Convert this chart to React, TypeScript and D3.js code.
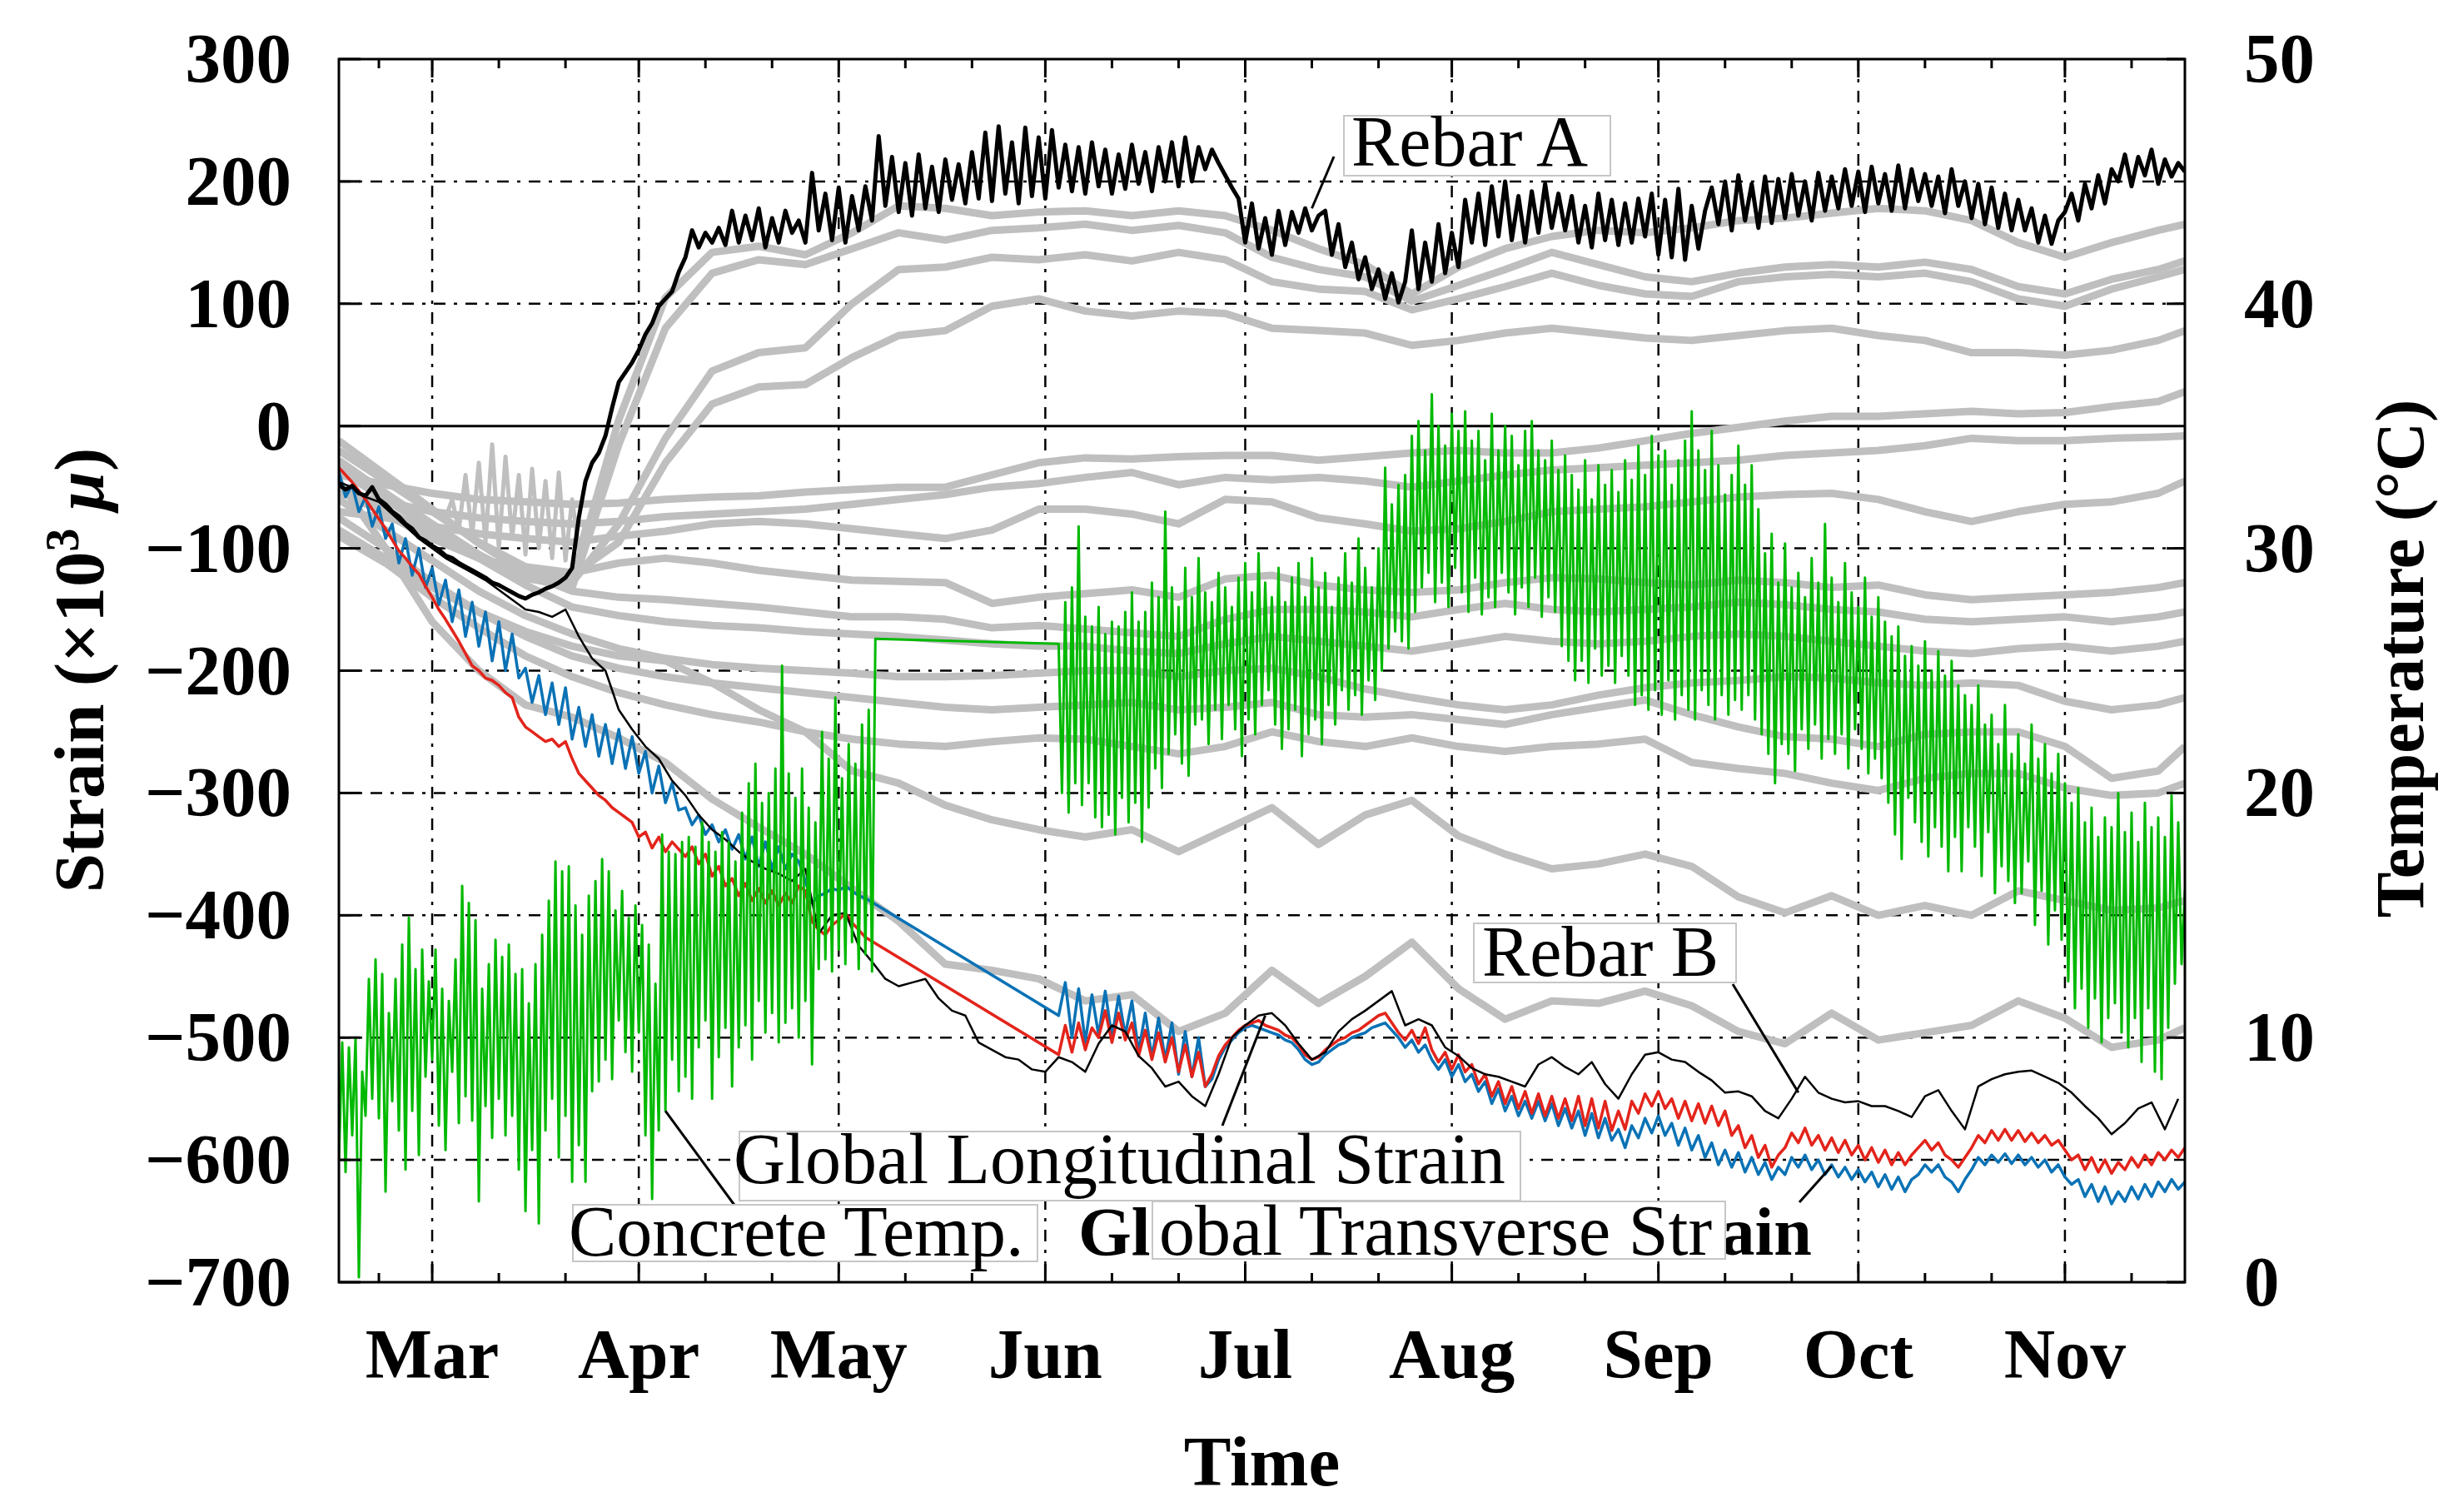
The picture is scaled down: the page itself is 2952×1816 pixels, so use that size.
import React, { useEffect } from 'react';
import * as d3 from 'd3';

// day 0 = 15 Feb; every series is indexed in days from that date
const startDate = new Date(2015, 1, 15);
const lastDay = 277;

const strainTicks = [300, 200, 100, 0, -100, -200, -300, -400, -500, -600, -700];
const tempTicks = [0, 10, 20, 30, 40, 50];
const monthNames = ['Mar', 'Apr', 'May', 'Jun', 'Jul', 'Aug', 'Sep', 'Oct', 'Nov'];

// Rebar A, daily from day 0
const rebarA = [
  -48, -52, -49, -55, -57, -50, -60, -64, -70, -74,
  -80, -84, -91, -94, -98, -101, -106, -108, -112, -115,
  -118, -121, -124, -128, -130, -133, -136, -139, -141, -138,
  -136, -133, -131, -128, -124, -116, -75, -45, -30, -22,
  -8, 15, 36, 44, 52, 62, 75, 84, 98, 104,
  110, 126, 138, 160, 146, 158, 150, 162, 148, 176,
  150, 172, 152, 178, 146, 170, 150, 176, 158, 168,
  150, 207, 160, 190, 152, 195, 150, 188, 160, 196,
  168, 237, 180, 220, 175, 215, 172, 222, 178, 212,
  175, 218, 185, 214, 182, 224, 186, 240, 184, 245,
  190, 232, 182, 244, 188, 236, 186, 242, 195, 230,
  192, 228, 190, 232, 196, 226, 190, 222, 194, 230,
  198, 224, 192, 228, 200, 232, 196, 236, 200, 228,
  210, 226, 215, 205, 195, 186, 150, 182, 145, 170,
  140, 176, 148, 175, 158, 178, 160, 172, 176, 140,
  165, 130, 150, 120, 138, 112, 128, 104, 125, 101,
  118, 160, 112, 150, 118, 165, 125, 158, 130, 185,
  150, 190, 148, 196, 155, 200, 152, 188, 150, 192,
  158, 198, 162, 190, 160, 188, 150, 180, 146, 190,
  152, 185, 148, 182, 150, 186, 155, 190, 140, 185,
  138, 194, 136, 180, 145, 176, 195, 165, 200, 160,
  205, 168, 198, 162, 204, 166, 202, 170, 206, 172,
  200, 168, 207, 176, 204, 178, 210, 180, 208, 175,
  212, 182, 206, 176, 213, 178, 210, 184, 206, 180,
  204, 174, 210, 180, 200, 170, 198, 165, 195, 162,
  190, 160, 185, 160, 178, 150, 172, 149, 168, 175,
  190, 168, 198, 178, 205, 182, 210, 200, 222, 196,
  220, 205, 226, 198, 218, 204, 215, 208,
];

// Rebar B, every 2 days from day 0
const rebarB = [
  -46, -50, -58, -62, -72, -82, -92, -100, -108, -114,
  -120, -126, -134, -142, -150, -152, -156, -150, -172, -190,
  -200, -232, -248, -262, -272, -290, -302, -318, -330, -338,
  -348, -356, -362, -366, -372, -362, -415, -400, -398, -425,
  -438, -452, -458, -455, -452, -468, -478, -482, -504, -510,
  -516, -518, -526, -528, -516, -520, -528, -505, -490, -495,
  -515, -525, -540, -536, -548, -556, -530, -500, -490, -482,
  -480, -490, -505, -518, -512, -495, -485, -478, -470, -462,
  -490, -485, -490, -508, -515, -525, -530, -532, -536, -540,
  -522, -516, -524, -530, -520, -538, -550, -530, -514, -512,
  -518, -520, -528, -535, -545, -544, -548, -560, -566, -550,
  -532, -545, -550, -553, -552, -556, -556, -560, -565, -548,
  -543, -560, -575, -540, -534, -530, -528, -527, -532, -537,
  -545, -556, -566, -579, -570, -558, -553, -575, -550,
];

// Global longitudinal strain (red): daily from day 0, then daily from day 108
const longEarly = [
  -34, -40, -46, -53, -60, -68, -76, -84, -93, -102,
  -108, -115, -121, -131, -140, -150, -158, -167, -176, -186,
  -196, -200, -206, -208, -212, -218, -222, -238, -246, -250,
  -254, -258, -256, -262, -258, -272, -284, -290, -296, -302,
  -306, -312, -316, -320, -324, -336, -332, -345, -336, -348,
  -340, -346, -352, -344, -358, -350, -368, -360, -376, -370,
  -384, -374, -388, -378, -390, -380, -392, -382, -390, -376,
  -380, -405, -412, -416, -408, -404, -398, -406, -412, -418,
];
const longLate = [
  -514, -490, -512, -488, -510, -492, -500, -478, -504, -480,
  -502, -488, -515, -494, -518, -496, -520, -500, -528, -506,
  -532, -512, -540, -530, -515, -506, -500, -494, -490, -488,
  -486, -490, -492, -494, -498, -500, -506, -514, -518, -516,
  -510, -506, -502, -500, -496, -494, -490, -486, -482, -480,
  -488, -496, -502, -494, -505, -492, -510, -520, -512, -526,
  -514, -528, -522, -538, -530, -548, -536, -554, -540, -558,
  -544, -562, -546, -564, -548, -566, -550, -568, -548, -572,
  -550, -574, -552, -576, -560, -575, -552, -562, -546, -556,
  -544, -558, -550, -566, -552, -568, -554, -570, -556, -572,
  -560, -580, -572, -590, -580, -598, -588, -606, -596, -590,
  -578, -586, -574, -588, -580, -592, -582, -594, -584, -596,
  -588, -600, -590, -602, -592, -604, -594, -604, -596, -590,
  -584, -592, -586, -596, -600, -606, -598, -590, -580, -586,
  -576, -584, -575, -584, -576, -585, -578, -586, -580, -588,
  -584, -592, -600, -596, -608, -598, -610, -600, -611, -602,
  -608, -598, -606, -596, -604, -594, -600, -592, -598, -590,
];

// Global transverse strain (blue): daily from day 0, then daily from day 108
const transEarly = [
  -37, -58, -48, -70, -58, -82, -66, -92, -80, -112,
  -92, -122, -100, -132, -116, -146, -126, -160, -134, -172,
  -144, -180, -152, -192, -160, -200, -170, -206, -198, -226,
  -204, -236, -210, -244, -214, -256, -230, -262, -236, -270,
  -244, -276, -248, -280, -254, -284, -266, -300, -278, -308,
  -292, -314, -312, -326, -318, -334, -326, -340, -330, -346,
  -334, -354, -336, -360, -340, -362, -344, -362, -350, -356,
  -372, -390, -384, -382, -378, -380, -376, -380, -384, -386,
];
const transLate = [
  -482, -455, -500, -460, -504, -465, -498, -462, -500, -466,
  -498, -470, -512, -480, -516, -484, -518, -488, -530, -495,
  -532, -500, -540, -534, -518, -508, -502, -496, -492, -490,
  -492, -494, -496, -498, -502, -504, -510, -518, -522, -520,
  -514, -510, -506, -504, -500, -498, -496, -492, -490, -488,
  -494, -500, -508, -502, -512, -506, -518, -526, -518, -532,
  -522, -536, -530, -544, -536, -554, -542, -560, -548, -564,
  -552, -566, -552, -568, -554, -572, -558, -574, -560, -580,
  -562, -582, -566, -584, -575, -590, -572, -582, -566, -578,
  -564, -580, -570, -588, -574, -592, -580, -598, -586, -604,
  -592, -606, -594, -610, -598, -612, -602, -616, -606, -612,
  -598, -606, -596, -608, -600, -612, -604, -614, -606, -616,
  -608, -618, -610, -622, -612, -624, -614, -626, -616, -612,
  -604, -610, -604, -614, -618, -626, -616, -608, -598, -604,
  -596, -602, -595, -603, -596, -604, -598, -606, -600, -610,
  -604, -614, -620, -616, -630, -620, -634, -622, -636, -626,
  -634, -622, -632, -620, -630, -618, -626, -616, -624, -618,
];

// Concrete temperature (°C), two readings a day (night low, day high) from day 0 to 80
const tempEarly = [
  5.0, 9.8, 4.5, 9.6, 6.0, 10.0, 0.2, 8.6, 6.8, 12.4,
  7.5, 13.2, 6.7, 12.6, 3.7, 11.0, 7.4, 12.4, 6.2, 13.8,
  4.6, 14.9, 7.0, 12.8, 5.2, 13.6, 8.4, 12.3, 9.1, 13.6,
  6.4, 12.0, 5.4, 11.5, 8.6, 13.2, 6.5, 16.2, 7.6, 15.5,
  6.6, 14.8, 3.3, 12.0, 7.2, 13.0, 5.9, 14.0, 7.5, 13.3,
  6.0, 13.8, 6.8, 12.6, 4.6, 12.8, 2.9, 11.4, 5.4, 13.0,
  2.4, 14.2, 6.2, 15.6, 7.5, 17.2, 5.1, 16.8, 6.8, 17.0,
  4.1, 15.4, 5.6, 14.2, 4.1, 15.8, 7.8, 16.4, 8.2, 17.3,
  9.1, 16.8, 8.3, 15.2, 10.7, 16.0, 9.4, 14.9, 8.6, 15.4,
  10.2, 14.6, 6.0, 13.8, 3.4, 12.2, 6.2, 18.3, 7.0, 17.6,
  9.1, 17.5, 7.8, 18.0, 8.4, 18.2, 7.5, 17.8, 9.6, 18.8,
  10.7, 18.0, 7.5, 17.6, 9.2, 18.4, 10.4, 18.0, 8.0, 17.2,
  9.6, 19.2, 10.5, 20.4, 9.1, 21.2, 11.5, 19.6, 10.2, 20.0,
  11.0, 21.0, 9.8, 25.2, 10.6, 20.8, 11.2, 19.8, 10.0, 21.0,
  11.5, 19.4, 8.9, 18.8, 12.8, 22.5, 13.2, 21.4, 12.7, 23.9,
  13.6, 20.6, 13.0, 22.0, 13.9, 21.2, 12.8, 22.8, 13.4, 23.4,
  12.7, 26.3,
];
// two readings a day (day high, night low) from day 108
const tempLate = [
  26.1, 20.0, 27.8, 19.2, 28.4, 20.4, 30.9, 19.5, 27.2, 20.4,
  26.8, 19.0, 27.6, 18.6, 26.5, 19.1, 27.0, 18.3, 26.8, 19.8,
  27.4, 18.8, 28.2, 19.6, 27.0, 18.0, 27.4, 19.4, 28.6, 21.0,
  28.0, 20.2, 31.5, 21.6, 28.4, 22.4, 27.6, 21.2, 29.2, 20.7,
  28.0, 22.8, 29.6, 23.0, 28.2, 22.0, 27.8, 23.4, 29.0, 22.2,
  28.4, 23.6, 27.6, 22.6, 28.8, 21.5, 29.4, 23.0, 28.2, 22.4,
  29.8, 23.6, 28.6, 24.2, 28.0, 22.8, 29.2, 21.8, 27.8, 22.6,
  28.8, 23.4, 29.4, 21.5, 28.0, 22.4, 29.6, 23.0, 28.4, 22.0,
  29.0, 23.6, 27.6, 22.8, 28.8, 24.2, 29.8, 23.4, 28.6, 24.0,
  30.4, 23.2, 29.2, 24.6, 28.4, 23.8, 30.0, 25.0, 33.3, 25.9,
  31.8, 26.6, 32.6, 26.2, 33.0, 25.9, 34.6, 27.4, 35.2, 28.4,
  34.0, 29.0, 36.3, 27.8, 35.0, 28.6, 34.2, 27.6, 35.5, 29.2,
  34.8, 28.2, 35.6, 27.4, 34.4, 28.8, 34.8, 27.3, 33.6, 28.0,
  35.5, 27.6, 34.0, 29.0, 35.0, 28.2, 34.6, 27.3, 33.4, 28.4,
  34.8, 27.6, 35.2, 28.8, 34.0, 27.2, 33.6, 28.0, 34.4, 27.4,
  33.2, 26.0, 33.8, 25.4, 33.0, 24.6, 32.4, 25.4, 33.6, 24.5,
  32.0, 25.9, 33.4, 24.8, 32.6, 25.2, 33.2, 24.5, 32.3, 25.6,
  33.6, 24.8, 32.8, 23.6, 34.2, 24.0, 33.0, 23.4, 34.6, 24.2,
  33.8, 23.2, 34.0, 24.6, 32.6, 23.0, 33.6, 24.0, 34.4, 23.4,
  35.6, 23.0, 34.0, 24.2, 33.2, 23.6, 34.8, 23.0, 33.4, 24.0,
  32.2, 23.2, 33.0, 23.8, 34.2, 23.4, 32.6, 24.0, 33.4, 23.0,
  31.6, 22.4, 29.8, 21.6, 30.6, 20.4, 28.6, 22.0, 30.2, 21.6,
  28.4, 20.9, 29.0, 22.6, 28.0, 21.8, 29.6, 22.8, 28.6, 21.4,
  31.0, 22.2, 28.8, 21.6, 27.8, 22.4, 29.4, 21.0, 28.2, 22.6,
  27.6, 21.8, 28.8, 20.8, 27.2, 21.4, 28.0, 20.6, 27.0, 19.6,
  26.4, 18.3, 26.8, 17.3, 25.6, 19.8, 26.0, 18.8, 25.2, 18.0,
  26.2, 17.4, 25.0, 18.6, 25.8, 17.8, 24.8, 16.8, 25.4, 18.2,
  24.4, 16.8, 24.0, 18.6, 23.6, 17.8, 24.4, 16.6, 22.8, 18.4,
  23.2, 15.9, 22.0, 17.0, 23.6, 16.4, 21.6, 15.5, 22.4, 15.9,
  21.2, 17.2, 22.8, 14.6, 21.4, 16.0, 22.0, 13.8, 20.8, 15.2,
  21.6, 14.0, 20.4, 12.3, 19.6, 11.2, 20.2, 12.0, 18.8, 10.4,
  19.4, 11.6, 18.2, 9.8, 19.0, 10.8, 18.6, 11.4, 20.0, 10.2,
  18.4, 9.6, 19.2, 10.8, 18.0, 9.0, 19.6, 11.2, 18.6, 8.6,
  19.0, 8.3, 18.2, 10.4, 19.9, 12.2, 18.8, 13.0, 16.0, 14.7,
];

// other gauges (grey), read weekly
const grayDays = [
  0, 7, 14, 21, 28, 35, 42, 49, 56, 63, 70, 77, 84, 91, 98, 105, 112, 119, 126, 133,
  140, 147, 154, 161, 168, 175, 182, 189, 196, 203, 210, 217, 224, 231, 238, 245, 252, 259, 266, 273, 277,
];
const grayG1 = [-30, -55, -80, -105, -125, -128, 5, 105, 142, 147, 140, 158, 180, 178, 172, 175, 176, 172, 176, 172, 160, 145, 132, 108, 130, 145, 155, 160, 158, 162, 168, 170, 174, 178, 176, 168, 150, 138, 150, 160, 165];
const grayG2 = [-36, -60, -84, -106, -124, -132, -15, 80, 125, 136, 132, 145, 158, 152, 160, 162, 165, 160, 164, 158, 138, 128, 122, 102, 115, 128, 142, 132, 122, 118, 125, 130, 132, 130, 134, 128, 114, 108, 120, 128, 135];
const grayG3 = [-48, -68, -90, -108, -122, -128, -80, -10, 45, 60, 64, 100, 128, 130, 138, 136, 140, 135, 142, 136, 118, 112, 110, 95, 104, 114, 125, 115, 108, 106, 118, 122, 124, 122, 125, 118, 104, 98, 112, 122, 128];
const grayG4 = [-52, -72, -92, -108, -118, -122, -95, -30, 18, 32, 34, 56, 74, 78, 98, 104, 94, 90, 94, 92, 80, 78, 76, 66, 70, 76, 80, 76, 72, 70, 74, 78, 80, 74, 70, 60, 60, 58, 62, 70, 78];
const grayN1 = [-40, -48, -55, -60, -62, -64, -63, -60, -58, -57, -54, -52, -50, -50, -40, -30, -26, -27, -25, -24, -24, -28, -25, -22, -20, -22, -22, -18, -12, -6, -1, 4, 8, 8, 10, 12, 10, 11, 16, 20, 28];
const grayN2 = [-55, -62, -70, -75, -78, -80, -78, -74, -72, -70, -68, -64, -60, -56, -50, -47, -42, -38, -48, -42, -44, -42, -45, -50, -45, -40, -36, -34, -32, -30, -28, -24, -22, -20, -16, -10, -12, -12, -10, -9, -8];
const grayN3 = [-70, -75, -82, -88, -92, -95, -90, -86, -80, -78, -80, -84, -88, -92, -85, -68, -68, -72, -80, -60, -62, -75, -80, -86, -84, -78, -70, -68, -66, -62, -58, -56, -55, -60, -70, -78, -70, -64, -62, -55, -45];
const grayN4 = [-20, -45, -70, -95, -115, -120, -112, -108, -112, -118, -122, -126, -127, -128, -145, -140, -137, -134, -140, -125, -122, -130, -134, -136, -134, -128, -124, -125, -128, -130, -126, -128, -132, -130, -138, -142, -140, -138, -136, -132, -128];
const grayN5 = [-12, -40, -68, -96, -120, -135, -140, -142, -145, -148, -152, -156, -156, -158, -165, -163, -166, -169, -172, -158, -150, -150, -152, -156, -150, -145, -150, -152, -150, -148, -144, -146, -150, -152, -158, -160, -158, -156, -160, -156, -152];
const grayN6 = [-28, -55, -82, -108, -130, -148, -155, -160, -163, -165, -168, -170, -172, -175, -178, -180, -180, -184, -186, -178, -172, -176, -180, -184, -178, -172, -176, -178, -176, -172, -170, -172, -176, -180, -184, -186, -182, -180, -184, -180, -176];
const grayN7 = [-60, -85, -110, -135, -155, -170, -182, -190, -195, -198, -200, -202, -205, -205, -204, -202, -200, -200, -205, -200, -198, -205, -215, -222, -228, -232, -228, -220, -214, -210, -208, -205, -206, -210, -212, -210, -212, -225, -232, -228, -222];
const grayN8 = [-75, -100, -128, -152, -172, -188, -198, -205, -210, -214, -218, -222, -226, -230, -232, -230, -228, -226, -232, -230, -226, -236, -238, -236, -240, -244, -236, -230, -224, -236, -246, -254, -256, -262, -252, -250, -250, -262, -288, -282, -262];
const grayN9 = [-90, -112, -140, -165, -188, -205, -218, -228, -236, -242, -250, -256, -260, -262, -258, -255, -256, -262, -268, -262, -250, -258, -262, -255, -262, -266, -262, -260, -256, -275, -280, -284, -292, -298, -288, -284, -284, -296, -302, -300, -292];
const grayN10 = [-85, -108, -132, -152, -168, -180, -188, -192, -210, -232, -250, -282, -292, -310, -322, -330, -336, -330, -348, -330, -312, -342, -318, -306, -335, -350, -362, -358, -350, -360, -385, -398, -384, -400, -392, -400, -380, -388, -396, -394, -388];
const grayN11 = [-45, -100, -160, -200, -228, -238, -255, -275, -305, -328, -350, -378, -405, -440, -445, -452, -470, -465, -495, -480, -445, -472, -450, -422, -460, -485, -470, -472, -462, -474, -495, -505, -480, -502, -496, -490, -470, -484, -508, -502, -492];
// noisy grey gauge in March, daily from day 16
const graySpike = [-75, -60, -85, -40, -90, -30, -95, -15, -100, -25, -92, -40, -105, -35, -100, -45, -108, -38, -110, -60, -100, -80, -95];

const grayLines = [
  grayG1, grayG2, grayG3, grayG4, grayN1, grayN2, grayN3, grayN4, grayN5, grayN6,
  grayN7, grayN8, grayN9, grayN10, grayN11,
];

const W = 2952;
const H = 1816;
const plot = { left: 407, right: 2624, top: 71, bottom: 1540 };
const serif = "'Liberation Serif', 'Times New Roman', Times, serif";

type Pt = [number, number];
const toPoints = (start: number, step: number, vals: number[]): Pt[] =>
  vals.map((v, i) => [start + i * step, v] as Pt);

export default function App() {
  useEffect(() => {
    document.body.style.margin = '0';
  }, []);

  const dateOf = (d: number) => new Date(startDate.getTime() + d * 86400000);
  const x = d3.scaleTime().domain([startDate, dateOf(lastDay)]).range([plot.left, plot.right]);
  const y = d3.scaleLinear().domain([-700, 300]).range([plot.bottom, plot.top]);
  const yT = d3.scaleLinear().domain([0, 50]).range([plot.bottom, plot.top]);
  const xd = (d: number) => x(dateOf(d));

  const strainLine = d3.line<Pt>().x((p) => xd(p[0])).y((p) => y(p[1]));
  const tempLine = d3.line<Pt>().x((p) => xd(p[0])).y((p) => yT(p[1]));

  const months = d3.timeMonth.range(dateOf(1), dateOf(lastDay));
  const minorDays = d3.timeDay
    .range(startDate, dateOf(lastDay))
    .filter((d) => d.getDate() === 11 || d.getDate() === 21);

  const grayPaths = grayLines.map((vals) =>
    strainLine(vals.map((v, i) => [grayDays[i], v] as Pt))
  );
  const spikePath = strainLine(toPoints(16, 1, graySpike));
  // data gaps (mid May to early June) are bridged by the straight segment of the line
  const redPath = strainLine([...toPoints(0, 1, longEarly), ...toPoints(108, 1, longLate)]);
  const bluePath = strainLine([...toPoints(0, 1, transEarly), ...toPoints(108, 1, transLate)]);
  const greenPath = tempLine([...toPoints(0, 0.5, tempEarly), ...toPoints(108, 0.5, tempLate)]);
  const aPath = strainLine(toPoints(0, 1, rebarA));
  const bPath = strainLine(toPoints(0, 2, rebarB));

  const grid = { stroke: '#000', strokeWidth: 2.5, strokeDasharray: '14 10 4 10' };
  const lbl = { fontFamily: serif, fontWeight: 'bold' as const, fontSize: 85 };
  const box = { fill: '#fff', stroke: '#c6c6c6', strokeWidth: 2 };
  const note = { fontFamily: serif, fontSize: 86 };

  return (
    <svg width={W} height={H} viewBox={`0 0 ${W} ${H}`} style={{ display: 'block', background: '#fff' }}>
      <defs>
        <clipPath id="plotClip">
          <rect x={plot.left} y={plot.top} width={plot.right - plot.left} height={plot.bottom - plot.top} />
        </clipPath>
        <clipPath id="gtsClip">
          <rect x={1384} y={1443} width={688} height={69} />
        </clipPath>
      </defs>

      {/* grid */}
      {months.map((m, i) => (
        <line key={'vg' + i} x1={x(m)} x2={x(m)} y1={plot.top} y2={plot.bottom} {...grid} />
      ))}
      {strainTicks
        .filter((t) => t !== 300 && t !== -700 && t !== 0)
        .map((t) => (
          <line key={'hg' + t} x1={plot.left} x2={plot.right} y1={y(t)} y2={y(t)} {...grid} />
        ))}
      <line x1={plot.left} x2={plot.right} y1={y(0)} y2={y(0)} stroke="#000" strokeWidth={3} />

      {/* data */}
      <g clipPath="url(#plotClip)" fill="none" strokeLinejoin="round">
        {grayPaths.map((p, i) => (
          <path key={'g' + i} d={p || ''} stroke="#bfbfbf" strokeWidth={9} />
        ))}
        <path d={spikePath || ''} stroke="#bfbfbf" strokeWidth={5} />
        <path d={bluePath || ''} stroke="#0a72b5" strokeWidth={3.5} />
        <path d={redPath || ''} stroke="#e3241b" strokeWidth={3.5} />
        <path d={bPath || ''} stroke="#000" strokeWidth={2.5} />
        <path d={aPath || ''} stroke="#000" strokeWidth={5} />
        <path d={greenPath || ''} stroke="#00b900" strokeWidth={3} />
      </g>

      {/* ticks */}
      {strainTicks.map((t) => (
        <line key={'lt' + t} x1={plot.left} x2={plot.left + 26} y1={y(t)} y2={y(t)} stroke="#000" strokeWidth={3} />
      ))}
      {tempTicks.map((t) => (
        <line key={'rt' + t} x1={plot.right - 22} x2={plot.right} y1={yT(t)} y2={yT(t)} stroke="#000" strokeWidth={3} />
      ))}
      {months.map((m, i) => (
        <g key={'mt' + i} stroke="#000" strokeWidth={3}>
          <line x1={x(m)} x2={x(m)} y1={plot.bottom} y2={plot.bottom - 22} />
          <line x1={x(m)} x2={x(m)} y1={plot.top} y2={plot.top + 22} />
        </g>
      ))}
      {minorDays.map((m, i) => (
        <g key={'nt' + i} stroke="#000" strokeWidth={3}>
          <line x1={x(m)} x2={x(m)} y1={plot.bottom} y2={plot.bottom - 11} />
          <line x1={x(m)} x2={x(m)} y1={plot.top} y2={plot.top + 11} />
        </g>
      ))}

      {/* frame */}
      <rect x={plot.left} y={plot.top} width={plot.right - plot.left} height={plot.bottom - plot.top} fill="none" stroke="#000" strokeWidth={3} />

      {/* tick labels */}
      {strainTicks.map((t) => (
        <text key={'ll' + t} x={350} y={y(t)} dy="0.33em" textAnchor="end" {...lbl}>
          {t < 0 ? '\u2212' + Math.abs(t) : String(t)}
        </text>
      ))}
      {tempTicks.map((t) => (
        <text key={'rl' + t} x={2695} y={yT(t)} dy="0.33em" textAnchor="start" {...lbl}>
          {String(t)}
        </text>
      ))}
      {months.map((m, i) => (
        <text key={'ml' + i} x={x(m)} y={1655} textAnchor="middle" {...lbl}>
          {monthNames[i]}
        </text>
      ))}

      {/* axis titles */}
      <text x={(plot.left + plot.right) / 2} y={1784} textAnchor="middle" {...lbl}>
        Time
      </text>
      <text transform="translate(124,805) rotate(-90)" textAnchor="middle" {...lbl}>
        {'Strain (\u00d710'}
        <tspan dy={-30} fontSize={56}>3</tspan>
        <tspan dy={30}>{' '}</tspan>
        <tspan fontStyle="italic">{'\u03bc'}</tspan>
        {')'}
      </text>
      <text transform="translate(2910,791) rotate(-90)" textAnchor="middle" {...lbl} fontSize={82}>
        {'Temperature (\u00b0C)'}
      </text>

      {/* annotations */}
      <g stroke="#000" strokeWidth={3}>
        <line x1={1602} y1={188} x2={xd(146)} y2={y(178)} />
        <line x1={2081} y1={1182} x2={xd(219)} y2={y(-545)} />
        <line x1={1468} y1={1352} x2={xd(139)} y2={y(-482)} />
        <line x1={884} y1={1450} x2={xd(49)} y2={yT(7)} />
        <line x1={2161} y1={1444} x2={xd(224)} y2={y(-605)} />
      </g>

      <rect x={1614} y={139} width={320} height={72} {...box} />
      <text x={1623} y={199} {...note}>Rebar A</text>

      <rect x={1770} y={1109} width={315} height={71} {...box} />
      <text x={1780} y={1172} {...note}>Rebar B</text>

      <rect x={888} y={1359} width={938} height={83} {...box} />
      <text x={881} y={1421} {...note}>Global Longitudinal Strain</text>

      <rect x={688} y={1447} width={558} height={68} {...box} />
      <text x={683} y={1508} {...note}>Concrete Temp.</text>

      <text x={1295} y={1507} fontFamily={serif} fontWeight="bold" fontSize={82}>
        Global Transverse Strain
      </text>
      <rect x={1384} y={1443} width={688} height={69} {...box} />
      <text x={1392} y={1507} {...note} clipPath="url(#gtsClip)">
        obal Transverse Str
      </text>
    </svg>
  );
}
